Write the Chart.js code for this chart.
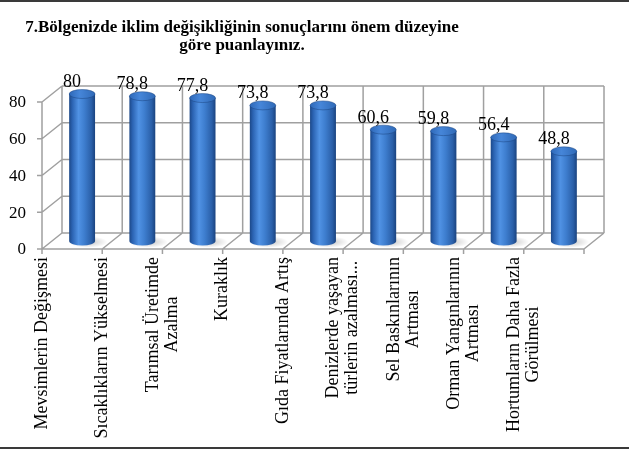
<!DOCTYPE html>
<html>
<head>
<meta charset="utf-8">
<script src="https://cdn.jsdelivr.net/npm/chart.js@4.4.1/dist/chart.umd.min.js"></script>
<style>
  html, body { margin: 0; padding: 0; background: #ffffff; }
  #c { display: block; }
</style>
</head>
<body>
<canvas id="c" width="629" height="449"></canvas>
<script>
// ---- data ----
const titleLines = ["7.Bölgenizde iklim değişikliğinin sonuçlarını önem düzeyine", "göre puanlayınız."];
const categories = [
  ["Mevsimlerin Değişmesi"],
  ["Sıcaklıkların Yükselmesi"],
  ["Tarımsal Üretimde", "Azalma"],
  ["Kuraklık"],
  ["Gıda Fiyatlarında Artış"],
  ["Denizlerde yaşayan", "türlerin azalması..."],
  ["Sel Baskınlarının", "Artması"],
  ["Orman Yangınlarının", "Artması"],
  ["Hortumların Daha Fazla", "Görülmesi"]
];
const values = [80, 78.8, 77.8, 73.8, 73.8, 60.6, 59.8, 56.4, 48.8];
const yTicks = [0, 20, 40, 60, 80];

// ---- styling constants ----
const DEPTH_X = 20, DEPTH_Y = -16;       // 3D depth of the box
const GRID = '#a0a0a0';
const SERIF = "'Liberation Serif', 'Times New Roman', serif";
const BAR_FRAC = 0.43;

function catWidth(xs) { return xs.getPixelForValue(1) - xs.getPixelForValue(0); }

function barGradient(context) {
  const chart = context.chart;
  const xs = chart.scales.x;
  if (!xs || !chart.chartArea) return '#3a78c8';
  const cx = xs.getPixelForValue(context.dataIndex);
  const w = catWidth(xs) * BAR_FRAC;
  const g = chart.ctx.createLinearGradient(cx - w / 2, 0, cx + w / 2, 0);
  g.addColorStop(0, '#1c4888');
  g.addColorStop(0.12, '#2b63b2');
  g.addColorStop(0.36, '#5092e4');
  g.addColorStop(0.58, '#3e7ecf');
  g.addColorStop(0.86, '#2a5fa8');
  g.addColorStop(1, '#1a437f');
  return g;
}

const scene3d = {
  id: 'scene3d',
  beforeDatasetsDraw(chart) {
    const ctx = chart.ctx;
    const xs = chart.scales.x, ys = chart.scales.y;
    const cw = catWidth(xs);
    const n = categories.length;
    const x0 = xs.getPixelForValue(0) - cw / 2;
    const xN = x0 + cw * n;
    const yBot = ys.getPixelForValue(0), yTop = ys.getPixelForValue(yTicks[yTicks.length - 1]);

    ctx.save();
    // frame lines top & bottom
    ctx.fillStyle = '#3a3a3a';
    ctx.fillRect(0, 0, chart.width, 2);
    ctx.fillRect(0, chart.height - 2, chart.width, 2);

    // title
    ctx.fillStyle = '#000';
    ctx.font = "bold 17px " + SERIF;
    ctx.textAlign = 'center';
    ctx.textBaseline = 'alphabetic';
    ctx.fillText(titleLines[0], 242, 32);
    ctx.fillText(titleLines[1], 242, 50);

    ctx.strokeStyle = GRID;
    ctx.lineWidth = 1.5;
    ctx.beginPath();
    // back wall horizontal gridlines
    yTicks.forEach(v => {
      const y = ys.getPixelForValue(v);
      ctx.moveTo(x0 + DEPTH_X, y + DEPTH_Y);
      ctx.lineTo(xN + DEPTH_X, y + DEPTH_Y);
      // side wall diagonals
      ctx.moveTo(x0, y);
      ctx.lineTo(x0 + DEPTH_X, y + DEPTH_Y);
      // y tick marks
      ctx.moveTo(x0 - 5, y);
      ctx.lineTo(x0, y);
    });
    // back wall vertical gridlines & floor diagonals & x tick marks
    for (let i = 0; i <= n; i++) {
      const x = x0 + cw * i;
      ctx.moveTo(x + DEPTH_X, yBot + DEPTH_Y);
      ctx.lineTo(x + DEPTH_X, yTop + DEPTH_Y);
      ctx.moveTo(x, yBot);
      ctx.lineTo(x + DEPTH_X, yBot + DEPTH_Y);
      ctx.moveTo(x, yBot);
      ctx.lineTo(x, yBot + 5);
    }
    // front axis lines
    ctx.moveTo(x0, yTop);
    ctx.lineTo(x0, yBot);
    ctx.lineTo(xN, yBot);
    ctx.stroke();

    // y tick labels
    ctx.fillStyle = '#000';
    ctx.font = "17px " + SERIF;
    ctx.textAlign = 'right';
    ctx.textBaseline = 'middle';
    yTicks.forEach(v => {
      ctx.fillText(String(v), x0 - 16, ys.getPixelForValue(v) + 1);
    });

    // x category labels (rotated, centred on category boundaries like the original)
    ctx.font = "18px " + SERIF;
    const lh = 19;
    categories.forEach((lines, i) => {
      const x = x0 + cw * i;
      let maxW = 0;
      lines.forEach(l => { maxW = Math.max(maxW, ctx.measureText(l).width); });
      ctx.save();
      ctx.translate(x, yBot + 8);
      ctx.rotate(-Math.PI / 2);
      ctx.textAlign = 'center';
      ctx.textBaseline = 'middle';
      lines.forEach((l, j) => {
        ctx.fillText(l, -maxW / 2, (j - (lines.length - 1) / 2) * lh);
      });
      ctx.restore();
    });
    ctx.restore();

    // bars sit in the middle of the depth
    ctx.save();
    ctx.translate(DEPTH_X / 2, DEPTH_Y / 2);
    // floor shadows
    const meta = chart.getDatasetMeta(0);
    meta.data.forEach(bar => {
      const r = bar.width * 0.75;
      const g = ctx.createRadialGradient(bar.x + 6, bar.base + 1, 1, bar.x + 6, bar.base + 1, r);
      g.addColorStop(0, 'rgba(0,0,0,0.22)');
      g.addColorStop(1, 'rgba(0,0,0,0)');
      ctx.save();
      ctx.translate(bar.x + 6, bar.base + 1);
      ctx.scale(1, 0.3);
      ctx.translate(-(bar.x + 6), -(bar.base + 1));
      ctx.fillStyle = g;
      ctx.beginPath();
      ctx.arc(bar.x + 6, bar.base + 1, r, 0, Math.PI * 2);
      ctx.fill();
      ctx.restore();
    });
  },
  afterDatasetsDraw(chart) {
    const ctx = chart.ctx;
    const meta = chart.getDatasetMeta(0);
    const ys = chart.scales.y;
    meta.data.forEach((bar, i) => {
      const rx = bar.width / 2, ry = 4.5;
      const fill = barGradient({ chart, dataIndex: i });
      // bottom cap
      ctx.fillStyle = fill;
      ctx.beginPath();
      ctx.ellipse(bar.x, bar.base, rx, ry, 0, 0, Math.PI);
      ctx.fill();
      // top cap
      const tg = ctx.createLinearGradient(bar.x - rx, 0, bar.x + rx, 0);
      tg.addColorStop(0, '#2e68b8');
      tg.addColorStop(0.4, '#4686d9');
      tg.addColorStop(1, '#306ab7');
      ctx.fillStyle = tg;
      ctx.beginPath();
      ctx.ellipse(bar.x, bar.y, rx, ry, 0, 0, Math.PI * 2);
      ctx.fill();
      ctx.strokeStyle = 'rgba(25,65,125,0.6)';
      ctx.lineWidth = 0.8;
      ctx.stroke();
    });
    ctx.restore();

    // value labels
    const xs = chart.scales.x;
    ctx.save();
    ctx.fillStyle = '#000';
    ctx.font = "18px " + SERIF;
    ctx.textAlign = 'center';
    ctx.textBaseline = 'alphabetic';
    values.forEach((v, i) => {
      const txt = String(v).replace('.', ',');
      ctx.fillText(txt, xs.getPixelForValue(i), ys.getPixelForValue(v) - 15);
    });
    ctx.restore();
  }
};

new Chart(document.getElementById('c'), {
  type: 'bar',
  data: {
    labels: categories,
    datasets: [{
      data: values,
      backgroundColor: barGradient,
      borderWidth: 0,
      barPercentage: BAR_FRAC,
      categoryPercentage: 1,
      clip: false
    }]
  },
  options: {
    responsive: false,
    animation: false,
    events: [],
    layout: { padding: { left: 42, right: 45, top: 102, bottom: 200 } },
    scales: {
      x: { display: false },
      y: { display: false, min: 0, max: 80 }
    },
    plugins: {
      legend: { display: false },
      tooltip: { enabled: false },
      title: { display: false }
    }
  },
  plugins: [scene3d]
});
</script>
</body>
</html>
